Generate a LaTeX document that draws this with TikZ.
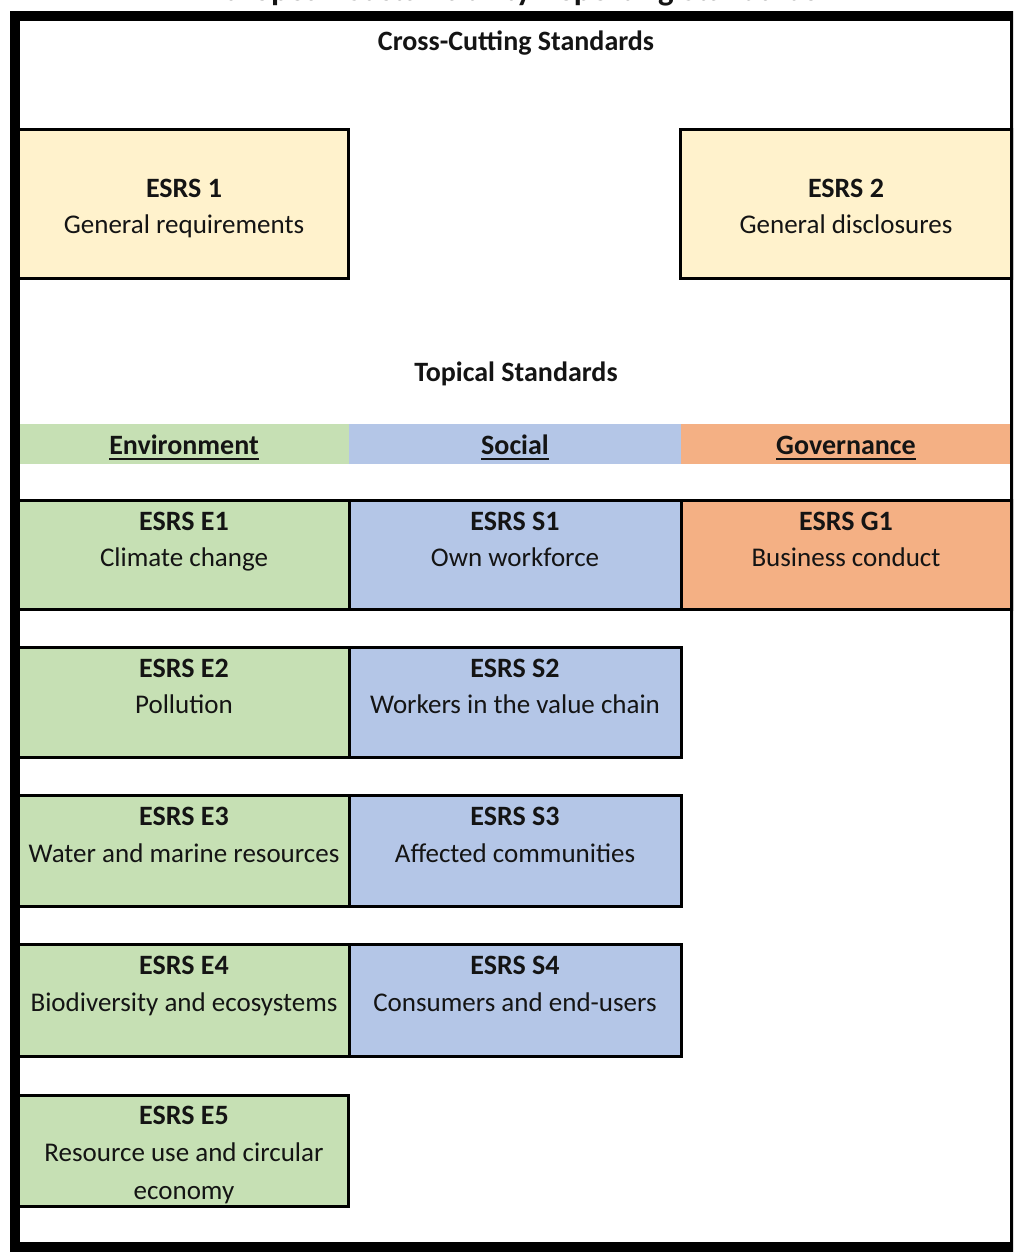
\documentclass[tikz,border=0pt]{standalone}
\usepackage{fontspec}
\setmainfont{Carlito}
\definecolor{cream}{HTML}{FFF2CC}
\definecolor{envgreen}{HTML}{C6E0B4}
\definecolor{socblue}{HTML}{B4C6E7}
\definecolor{govorange}{HTML}{F4B084}
\definecolor{ink}{HTML}{141414}
\begin{document}
\begin{tikzpicture}[x=1pt,y=-1pt,
  box/.style={draw=black, line width=3pt},
  txt/.style={inner sep=0pt, anchor=base, text=ink, font=\fontsize{27}{32}\selectfont},
  hd/.style={txt, font=\fontsize{28}{32}\selectfont\bfseries},
  uline/.style={line width=2pt, draw=ink}]
\useasboundingbox (0,0) rectangle (1013,1258);
\clip (0,0) rectangle (1013,1258);
\fill[white] (0,0) rectangle (1013,1258);

% title (cut off at the top, as in the reference)
\node[hd, font=\fontsize{33}{36}\selectfont\bfseries] (title) at (513,0.5) {European Sustainability Reporting Standards};

% cross-cutting
\node[hd] (cross) at (516,50) {Cross-Cutting Standards};
\draw[box, fill=cream] (17,129.5) rectangle (348,278);
\draw[box, fill=cream] (680,129.5) rectangle (1013,278);
\node[hd] (esrs1) at (184,197) {ESRS 1};
\node[txt] (esrs1d) at (184,233) {General requirements};
\node[hd] (esrs2) at (846,197) {ESRS 2};
\node[txt] (esrs2d) at (846,233) {General disclosures};

% topical
\node[hd] (topical) at (516,381) {Topical Standards};
\fill[envgreen] (19,424) rectangle (349,464);
\fill[socblue] (349,424) rectangle (681,464);
\fill[govorange] (681,424) rectangle (1011,464);
\node[hd] (env) at (184,454) {Environment};
\node[hd] (soc) at (515,454) {Social};
\node[hd] (gov) at (846,454) {Governance};
\draw[uline] ([yshift=-5pt]env.base west) -- ([yshift=-5pt]env.base east);
\draw[uline] ([yshift=-5pt]soc.base west) -- ([yshift=-5pt]soc.base east);
\draw[uline] ([yshift=-5pt]gov.base west) -- ([yshift=-5pt]gov.base east);

% row 1
\draw[box, fill=envgreen] (17,500) rectangle (349,609);
\draw[box, fill=socblue] (349,500) rectangle (681,609);
\draw[box, fill=govorange] (681,500) rectangle (1013,609);
\node[hd] (e1) at (184,530) {ESRS E1};
\node[txt] (e1d) at (184,566) {Climate change};
\node[hd] (s1) at (515,530) {ESRS S1};
\node[txt] (s1d) at (515,566) {Own workforce};
\node[hd] (g1) at (846,530) {ESRS G1};
\node[txt] (g1d) at (846,566) {Business conduct};

% row 2
\draw[box, fill=envgreen] (17,647) rectangle (349,757);
\draw[box, fill=socblue] (349,647) rectangle (681,757);
\node[hd] (e2) at (184,677) {ESRS E2};
\node[txt] (e2d) at (184,713) {Pollution};
\node[hd] (s2) at (515,677) {ESRS S2};
\node[txt] (s2d) at (515,713) {Workers in the value chain};

% row 3
\draw[box, fill=envgreen] (17,795) rectangle (349,906);
\draw[box, fill=socblue] (349,795) rectangle (681,906);
\node[hd] (e3) at (184,825) {ESRS E3};
\node[txt] (e3d) at (184,862) {Water and marine resources};
\node[hd] (s3) at (515,825) {ESRS S3};
\node[txt] (s3d) at (515,862) {Affected communities};

% row 4
\draw[box, fill=envgreen] (17,944) rectangle (349,1056);
\draw[box, fill=socblue] (349,944) rectangle (681,1056);
\node[hd] (e4) at (184,974) {ESRS E4};
\node[txt] (e4d) at (184,1011) {Biodiversity and ecosystems};
\node[hd] (s4) at (515,974) {ESRS S4};
\node[txt] (s4d) at (515,1011) {Consumers and end-users};

% row 5
\draw[box, fill=envgreen] (17,1095) rectangle (348,1206);
\node[hd] (e5) at (184,1124) {ESRS E5};
\node[txt] (e5d) at (184,1161) {Resource use and circular};
\node[txt] (e5e) at (184,1199) {economy};

% outer frame
\draw[line width=10pt, draw=black] (15,15.5) rectangle (1015,1246.5);
\end{tikzpicture}
\end{document}
